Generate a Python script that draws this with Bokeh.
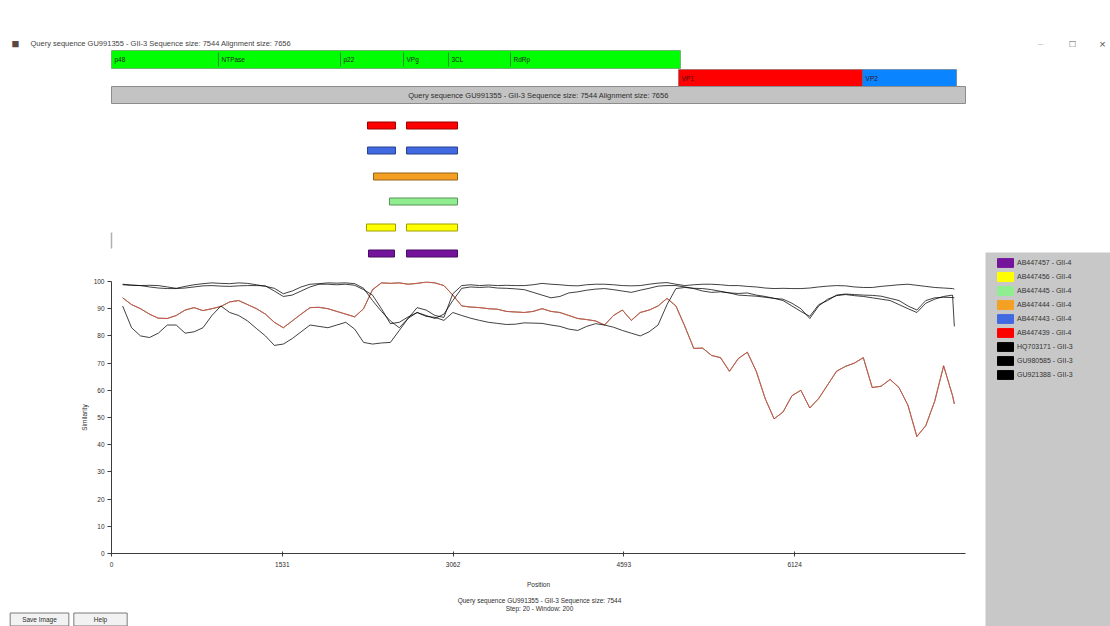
from bokeh.plotting import figure
from bokeh.models import Range1d, FixedTicker, Label
from bokeh.layouts import row, column
from bokeh.embed import file_html
from bokeh.resources import INLINE
from bokeh.core.properties import value

# ---------------- data ----------------
query_name = "GU991355 - GII-3"
sequence_size = 7544
alignment_size = 7656
step_size = 20
window_size = 200

positions = [100, 180, 260, 340, 420, 500, 580, 660, 740, 820,
             900, 980, 1060, 1140, 1220, 1300, 1380, 1460, 1540, 1620,
             1700, 1780, 1860, 1940, 2020, 2100, 2180, 2260, 2340, 2420,
             2500, 2580, 2660, 2740, 2820, 2900, 2980, 3060, 3140, 3220,
             3300, 3380, 3460, 3540, 3620, 3700, 3780, 3860, 3940, 4020,
             4100, 4180, 4260, 4340, 4420, 4500, 4580, 4660, 4740, 4820,
             4900, 4980, 5060, 5140, 5220, 5300, 5380, 5460, 5540, 5620,
             5700, 5780, 5860, 5940, 6020, 6100, 6180, 6260, 6340, 6420,
             6500, 6580, 6660, 6740, 6820, 6900, 6980, 7060, 7140, 7220,
             7300, 7380, 7460, 7540, 7556]

# the six GII-4 references overlap each other at this scale
gii4_similarity = [94.0, 91.5, 90.0, 88.0, 86.5, 86.4, 87.5, 89.5, 90.4, 89.3,
                   90.0, 90.8, 92.5, 93.0, 91.5, 90.0, 88.0, 85.0, 83.0, 85.5,
                   88.0, 90.4, 90.5, 90.0, 89.0, 88.0, 87.0, 90.0, 97.0, 99.5,
                   99.3, 99.5, 99.0, 99.3, 99.8, 99.5, 98.5, 95.0, 91.0, 90.6,
                   90.4, 90.0, 89.8, 89.0, 88.8, 88.6, 89.0, 90.0, 89.0, 88.6,
                   87.5, 86.4, 86.0, 85.5, 84.0, 87.5, 89.5, 85.7, 88.6, 89.5,
                   91.0, 93.8, 91.0, 83.5, 75.4, 75.5, 72.8, 72.0, 67.0, 71.7,
                   74.0, 67.0, 57.0, 49.5, 52.0, 58.0, 60.0, 53.5, 57.0, 62.0,
                   67.0, 68.8, 70.0, 72.0, 61.0, 61.5, 64.0, 61.0, 54.5, 43.0,
                   47.0, 56.0, 69.0, 58.0, 55.0]

gii3_ref1_similarity = [98.8, 98.6, 98.5, 98.6, 98.5, 98.0, 97.5, 98.2, 98.8, 99.2,
                        99.5, 99.3, 99.2, 99.5, 99.3, 98.8, 98.2, 97.5, 95.5, 96.5,
                        98.0, 99.0, 99.2, 99.5, 99.4, 99.5, 99.2, 97.5, 93.0, 89.0,
                        85.5, 83.0, 86.5, 90.4, 89.5, 87.5, 86.8, 95.5, 98.5, 98.8,
                        98.5, 98.7, 98.5, 98.6, 98.5, 98.5, 98.8, 99.3, 99.0, 98.8,
                        98.5, 98.4, 98.8, 99.0, 99.0, 98.8, 98.5, 98.4, 98.5, 99.0,
                        99.4, 99.6, 99.0, 98.5, 98.8, 99.0, 99.0, 98.8, 98.5, 98.5,
                        98.2, 98.0, 97.6, 97.4, 97.5, 97.4, 97.4, 97.6, 98.0, 98.3,
                        98.5, 98.4, 98.0, 97.8, 97.8, 98.2, 98.5, 98.8, 99.0, 98.6,
                        98.2, 97.8, 97.6, 97.4, 97.2]

gii3_ref2_similarity = [99.0, 98.7, 98.5, 98.0, 97.6, 97.4, 97.4, 97.6, 98.0, 98.4,
                        98.5, 98.3, 98.2, 98.4, 98.5, 98.5, 98.4, 96.5, 94.5, 95.0,
                        96.5, 98.0, 99.0, 99.0, 98.8, 99.0, 98.6, 97.0, 95.0, 90.0,
                        84.5, 85.0, 87.0, 88.6, 87.5, 86.4, 88.0, 93.0, 97.5, 98.0,
                        97.8, 98.0, 97.6, 97.5, 97.3, 97.0, 96.0, 95.0, 94.0, 94.5,
                        95.8, 96.2, 96.8, 97.2, 97.4, 97.0, 96.5, 96.0, 96.8, 97.5,
                        98.3, 98.5, 98.5, 98.0, 97.4, 96.5, 96.0, 96.2, 95.8, 95.6,
                        95.8, 95.0, 94.5, 93.8, 93.0, 91.0, 89.0, 87.2, 91.5, 93.0,
                        95.0, 95.4, 95.2, 95.0, 94.9, 94.6, 93.8, 93.0, 91.0, 89.5,
                        93.0, 94.0, 94.2, 94.1, 94.0]

gii3_ref3_similarity = [91.0, 83.0, 80.0, 79.4, 81.0, 84.0, 84.0, 81.0, 81.5, 83.0,
                        87.5, 91.0, 88.6, 87.5, 85.5, 82.7, 80.0, 76.5, 77.0, 79.0,
                        81.5, 84.0, 83.5, 83.0, 84.0, 85.0, 82.5, 77.6, 77.0, 77.4,
                        77.6, 82.0, 86.5, 88.6, 87.2, 86.8, 85.7, 88.6, 87.5, 86.5,
                        85.7, 85.0, 84.6, 84.2, 84.3, 84.8, 84.7, 84.6, 84.0, 83.5,
                        82.5, 82.0, 83.5, 84.5, 84.0, 83.2, 82.0, 81.0, 80.0, 81.5,
                        84.0, 91.5, 97.4, 97.8, 97.5, 97.4, 97.0, 96.4, 95.8, 95.0,
                        94.8, 94.6, 94.2, 93.8, 93.5, 92.0, 90.0, 86.4, 91.0, 93.5,
                        94.8, 95.2, 94.8, 94.5, 94.0, 93.5, 93.0, 91.5, 90.0, 88.6,
                        92.0, 93.5, 94.5, 95.0, 83.5]

gii4_names = ["AB447457 - GII-4", "AB447456 - GII-4", "AB447445 - GII-4",
              "AB447444 - GII-4", "AB447443 - GII-4", "AB447439 - GII-4"]
gii4_colors = ["#74149c", "#ffff00", "#90ee90", "#f4a024", "#4169e1", "#ff0000"]
gii3_names = ["HQ703171 - GII-3", "GU980585 - GII-3", "GU921388 - GII-3"]

x_ticks = [0, 1531, 3062, 4593, 6124]
y_ticks = [0, 10, 20, 30, 40, 50, 60, 70, 80, 90, 100]

orf_names = ["ORF1", "VP1", "VP2"]
orf_starts = [0, 5083, 6733]
orf_ends = [5101, 6733, 7576]
orf_colors = ["#00ff00", "#ff0000", "#0a84ff"]

domain_names = ["p48", "NTPase", "p22", "VPg", "3CL", "RdRp"]
domain_starts = [0, 959, 2053, 2618, 3021, 3577]

# regions where the query is most similar to a GII-4 reference (index into gii4_names)
seg_ref_index = [5, 5, 4, 4, 3, 2, 1, 1, 0, 0]
seg_starts = [2295, 2645, 2295, 2645, 2349, 2492, 2286, 2645, 2304, 2645]
seg_ends = [2546, 3102, 2546, 3102, 3102, 3102, 2546, 3102, 2537, 3102]

# ---------------- layout / style (page pixels) ----------------
FONT = "Liberation Sans"
TXT = "#2e2e2e"
TOTAL_W, TOTAL_H = 1110, 626
LEFT_W = 985
RIGHT_W = TOTAL_W - LEFT_W
TOP_BOTTOM = 262            # genome map figure: 0..262
STRIP_TOP = 590             # caption strip: 590..626
RTOP_BOTTOM = 252           # legend panel starts here
FRAME_L, FRAME_R = 111, 965
MAIN_TOP, MAIN_BOTTOM = 281, 553

ORF1_ROW = (50, 68)
ORF23_ROW = (69, 86)
ALN_ROW = (86, 103)
SEG_ROW_Y = {5: 125, 4: 150, 3: 176, 2: 201, 1: 227, 0: 253}
SEG_H = 7

COMMON = dict(output_backend="svg", toolbar_location=None, frame_align=False)


def darker(hexcol, f=0.62):
    h = hexcol.lstrip("#")
    r, g, b = (int(h[i:i + 2], 16) for i in (0, 2, 4))
    return "#%02x%02x%02x" % (int(r * f), int(g * f), int(b * f))


def screen_label(fl, fb, px, py, text, **kw):
    return Label(x=px - fl, y=fb - py, x_units="screen", y_units="screen",
                 text=text, text_font=FONT, **kw)


def blank(fig):
    fig.outline_line_color = None
    fig.xgrid.visible = False
    fig.ygrid.visible = False


# genome map spans the whole left column; its x scale equals the plot's scale
px_per_nt = (FRAME_R - FRAME_L) / alignment_size
top_x_range = Range1d(-FRAME_L / px_per_nt, alignment_size + (LEFT_W - FRAME_R) / px_per_nt)

# ---------------- genome map ----------------
top = figure(width=LEFT_W, height=TOP_BOTTOM, x_range=top_x_range,
             y_range=Range1d(TOP_BOTTOM, 0),
             x_axis_location=None, y_axis_location=None, min_border=0, **COMMON)
blank(top)

orf_tops = [ORF1_ROW[0], ORF23_ROW[0], ORF23_ROW[0]]
orf_bottoms = [ORF1_ROW[1], ORF23_ROW[1], ORF23_ROW[1]]
top.quad(left=orf_starts, right=orf_ends, top=orf_tops, bottom=orf_bottoms,
         fill_color=orf_colors, line_color="#5a5a5a", line_alpha=0.45, line_width=1)
top.segment(x0=domain_starts[1:], x1=domain_starts[1:],
            y0=[ORF1_ROW[0] + 2] * (len(domain_starts) - 1),
            y1=[ORF1_ROW[1] - 2] * (len(domain_starts) - 1),
            line_color="#2f8a2f", line_width=1)
top.text(x=domain_starts, y=[(ORF1_ROW[0] + ORF1_ROW[1]) / 2] * len(domain_starts),
         text=domain_names, x_offset=3, text_font=value(FONT), text_font_size="6.5px",
         text_baseline="middle", text_color="#1f1f1f")
top.text(x=orf_starts[1:], y=[(ORF23_ROW[0] + ORF23_ROW[1]) / 2] * 2, text=orf_names[1:],
         x_offset=3, text_font=value(FONT), text_font_size="6.5px",
         text_baseline="middle", text_color="#3a1010")
top.quad(left=[0], right=[alignment_size], top=[ALN_ROW[0]], bottom=[ALN_ROW[1]],
         fill_color="#c3c3c3", line_color="#8c8c8c", line_width=1)
top.add_layout(Label(x=alignment_size / 2, y=(ALN_ROW[0] + ALN_ROW[1]) / 2,
                     text="Query sequence %s Sequence size: %d Alignment size: %d"
                     % (query_name, sequence_size, alignment_size),
                     text_font=FONT, text_font_size="7.5px", text_color=TXT,
                     text_align="center", text_baseline="middle"))
seg_cols = [gii4_colors[i] for i in seg_ref_index]
seg_y = [SEG_ROW_Y[i] for i in seg_ref_index]
top.quad(left=seg_starts, right=seg_ends,
         top=[y - SEG_H / 2 for y in seg_y], bottom=[y + SEG_H / 2 for y in seg_y],
         fill_color=seg_cols, line_color=[darker(c) for c in seg_cols], line_width=1)
top.segment(x0=[0], x1=[0], y0=[232], y1=[248], line_color="#b0b0b0", line_width=1.5)

# window title bar
top.add_layout(screen_label(0, TOP_BOTTOM, 11, 43, "\u25a0", text_font_size="13px",
                            text_color="#5b4646", text_baseline="middle"))
top.add_layout(screen_label(0, TOP_BOTTOM, 30, 43,
                            "Query sequence %s Sequence size: %d Alignment size: %d"
                            % (query_name, sequence_size, alignment_size),
                            text_font_size="7.5px", text_color="#444444",
                            text_baseline="middle"))

# ---------------- similarity plot ----------------
main = figure(width=LEFT_W, height=STRIP_TOP - TOP_BOTTOM,
              x_range=Range1d(0, alignment_size), y_range=Range1d(0, 100),
              min_border_left=FRAME_L, min_border_right=LEFT_W - FRAME_R,
              min_border_top=MAIN_TOP - TOP_BOTTOM,
              min_border_bottom=STRIP_TOP - MAIN_BOTTOM, **COMMON)
blank(main)

for name, col in zip(gii4_names, gii4_colors):
    main.line(positions, gii4_similarity, line_color=col, line_width=1, line_alpha=0.45)
for series in (gii3_ref1_similarity, gii3_ref2_similarity, gii3_ref3_similarity):
    main.line(positions, series, line_color="black", line_width=1, line_alpha=0.75)

main.xaxis.ticker = FixedTicker(ticks=x_ticks)
main.yaxis.ticker = FixedTicker(ticks=y_ticks)
main.xaxis.axis_label = "Position"
main.yaxis.axis_label = "Similarity"
for ax in main.axis:
    ax.axis_line_color = "#3c3c3c"
    ax.major_tick_line_color = "#3c3c3c"
    ax.minor_tick_line_color = None
    ax.major_label_text_font = FONT
    ax.major_label_text_font_size = "6.5px"
    ax.major_label_text_color = TXT
    ax.axis_label_text_font = FONT
    ax.axis_label_text_font_size = "6.5px"
    ax.axis_label_text_font_style = "normal"
    ax.axis_label_text_color = TXT
main.yaxis.major_tick_out = 4
main.yaxis.major_tick_in = 0
main.yaxis.major_label_standoff = 3
main.yaxis.axis_label_standoff = 3
main.xaxis.major_tick_out = 3
main.xaxis.major_tick_in = 2
main.xaxis.major_label_standoff = 5
main.xaxis.axis_label_standoff = 11

# ---------------- caption strip ----------------
strip = figure(width=LEFT_W, height=TOTAL_H - STRIP_TOP,
               x_range=Range1d(0, 1), y_range=Range1d(0, 1),
               x_axis_location=None, y_axis_location=None, min_border=0, **COMMON)
blank(strip)
strip.add_layout(screen_label(0, TOTAL_H, 539, 600,
                              "Query sequence %s Sequence size: %d" % (query_name, sequence_size),
                              text_font_size="6.5px", text_color=TXT,
                              text_align="center", text_baseline="middle"))
strip.add_layout(screen_label(0, TOTAL_H, 539, 608,
                              "Step: %d - Window: %d" % (step_size, window_size),
                              text_font_size="6.5px", text_color=TXT,
                              text_align="center", text_baseline="middle"))
for bx, btxt, pad in ((39, "Save Image", 12), (100, "Help", 20)):
    strip.add_layout(screen_label(0, TOTAL_H, bx, 619, btxt,
                                  text_font_size="6.5px", text_color=TXT,
                                  text_align="center", text_baseline="middle",
                                  background_fill_color="#f2f2f2",
                                  border_line_color="#7a7a7a",
                                  padding=dict(left=pad, right=pad, top=3, bottom=3)))

# ---------------- right column ----------------
rtop = figure(width=RIGHT_W, height=RTOP_BOTTOM, x_range=Range1d(0, 1), y_range=Range1d(0, 1),
              x_axis_location=None, y_axis_location=None, min_border=0, **COMMON)
blank(rtop)
for cx, glyph, size, colr in ((1040, "\u2013", "9px", "#bdbdbd"),
                              (1072, "\u25a1", "10px", "#555555"),
                              (1102, "\u00d7", "11px", "#555555")):
    rtop.add_layout(screen_label(LEFT_W, RTOP_BOTTOM, cx, 43, glyph, text_font_size=size,
                                 text_color=colr, text_align="center", text_baseline="middle"))

leg_h = TOTAL_H - RTOP_BOTTOM
leg = figure(width=RIGHT_W, height=leg_h, x_range=Range1d(0, 1), y_range=Range1d(0, 1),
             x_axis_location=None, y_axis_location=None, min_border=0,
             background_fill_color="#c8c8c8", border_fill_color="#c8c8c8", **COMMON)
blank(leg)
all_names = gii4_names + gii3_names
all_colors = gii4_colors + ["black"] * len(gii3_names)
for name, col in zip(all_names, all_colors):
    # legend swatch source; kept outside the visible range
    leg.quad(left=[2], right=[3], top=[3], bottom=[2], fill_color=col, line_color=col,
             legend_label=name)
lg = leg.legend[0]
n = len(all_names)
item_h, gap = 11, 3
lg_h = n * item_h + (n - 1) * gap
lg.location = (10, leg_h - 5 - lg_h)
lg.padding = 0
lg.margin = 0
lg.spacing = gap
lg.glyph_height = item_h
lg.label_height = item_h
lg.glyph_width = 20
lg.label_standoff = 2
lg.label_text_font = FONT
lg.label_text_font_size = "7px"
lg.label_text_color = "#333333"
lg.border_line_color = None
lg.background_fill_alpha = 0

layout = row(column(top, main, strip), column(rtop, leg))
open("out.html", "w").write(file_html(layout, INLINE))
